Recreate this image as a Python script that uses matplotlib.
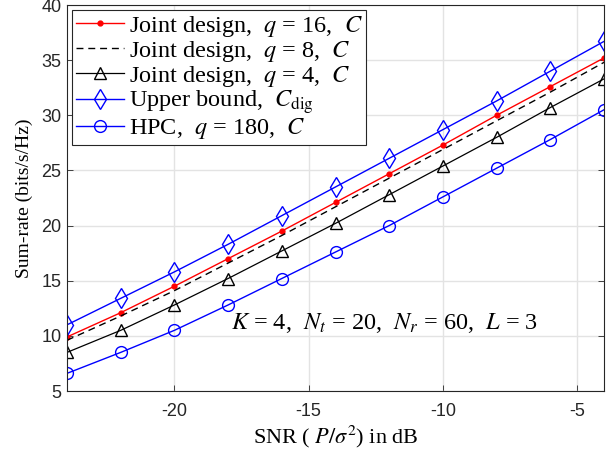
import matplotlib
matplotlib.use("Agg")
import matplotlib.pyplot as plt
import numpy as np

plt.rcParams['mathtext.fontset'] = 'stix'

snr_db = [-24, -22, -20, -18, -16, -14, -12, -10, -8, -6, -4]
joint_q16 = [9.9, 12.1, 14.5, 17.0, 19.5, 22.1, 24.7, 27.3, 30.0, 32.6, 35.2]
joint_q8 = [9.6, 11.8, 14.1, 16.6, 19.1, 21.7, 24.3, 26.9, 29.5, 32.1, 34.8]
joint_q4 = [8.5, 10.5, 12.8, 15.2, 17.7, 20.2, 22.8, 25.4, 28.0, 30.7, 33.3]
upper_bound = [11.0, 13.4, 15.8, 18.3, 20.9, 23.5, 26.1, 28.7, 31.3, 34.0, 36.7]
hpc_q180 = [6.6, 8.5, 10.5, 12.8, 15.2, 17.6, 20.0, 22.6, 25.2, 27.8, 30.5]

labels = [
    r'Joint design,  $q$ = 16,  $C$',
    r'Joint design,  $q$ = 8,  $C$',
    r'Joint design,  $q$ = 4,  $C$',
    r'Upper bound,  $C_{\mathrm{dig}}$',
    r'HPC,  $q$ = 180,  $C$',
]
xticks = [-20, -15, -10, -5]
yticks = [5, 10, 15, 20, 25, 30, 35, 40]

serif = 'Liberation Serif'
sans = 'Liberation Sans'

fig = plt.figure(figsize=(6.16, 4.55), dpi=100)
ax = fig.add_axes([67/616, 1-391/455, (604-67)/616, (391-5)/455])

ax.plot(snr_db, joint_q16, color='red', lw=1.0, marker='.', markersize=7, label=labels[0])
ax.plot(snr_db, joint_q8, color='black', lw=1.0, ls=(0, (5, 3.5)), label=labels[1])
ax.plot(snr_db, joint_q4, color='black', lw=0.9, marker='^', markersize=9, mfc='none', mew=1.0, label=labels[2])
ax.plot(snr_db, upper_bound, color='blue', lw=1.0, marker='d', markersize=10, mfc='none', mew=1.0, label=labels[3])
ax.plot(snr_db, hpc_q180, color='blue', lw=1.0, marker='o', markersize=8.5, mfc='none', mew=1.0, label=labels[4])

ax.set_xlim(-24, -4)
ax.set_ylim(5, 40)
ax.set_xticks(xticks)
ax.set_yticks(yticks)
ax.set_xticklabels([str(t) for t in xticks], fontfamily=sans, fontsize=13)
ax.set_yticklabels([str(t) for t in yticks], fontfamily=sans, fontsize=13)
ax.tick_params(direction='in', length=4, width=0.6, colors='#262626', top=False, right=True)
ax.tick_params(axis='x', pad=9)
ax.tick_params(axis='y', pad=4)
ax.grid(True, color='#e3e3e3', lw=1.0)
ax.set_axisbelow(True)
for s in ax.spines.values():
    s.set_color('#262626')
    s.set_linewidth(0.8)

ax.set_xlabel(r'SNR ( $P/\sigma^2$) in dB', fontfamily=serif, fontsize=16, labelpad=2)
ax.set_ylabel('Sum-rate (bits/s/Hz)', fontfamily=serif, fontsize=14, labelpad=6)

ax.text(-17.9, 11.2, r'$K$ = 4,  $N_t$ = 20,  $N_r$ = 60,  $L$ = 3',
        fontfamily=serif, fontsize=17.5, va='center', ha='left')

leg = ax.legend(loc='upper left', prop={'family': serif, 'size': 17.5},
                frameon=True, fancybox=False, edgecolor='#262626', framealpha=1,
                borderpad=0.15, labelspacing=0.0, handlelength=2.0, handletextpad=0.2,
                borderaxespad=0.2)
leg.get_frame().set_linewidth(0.8)

fig.savefig('out.png', dpi=100)
